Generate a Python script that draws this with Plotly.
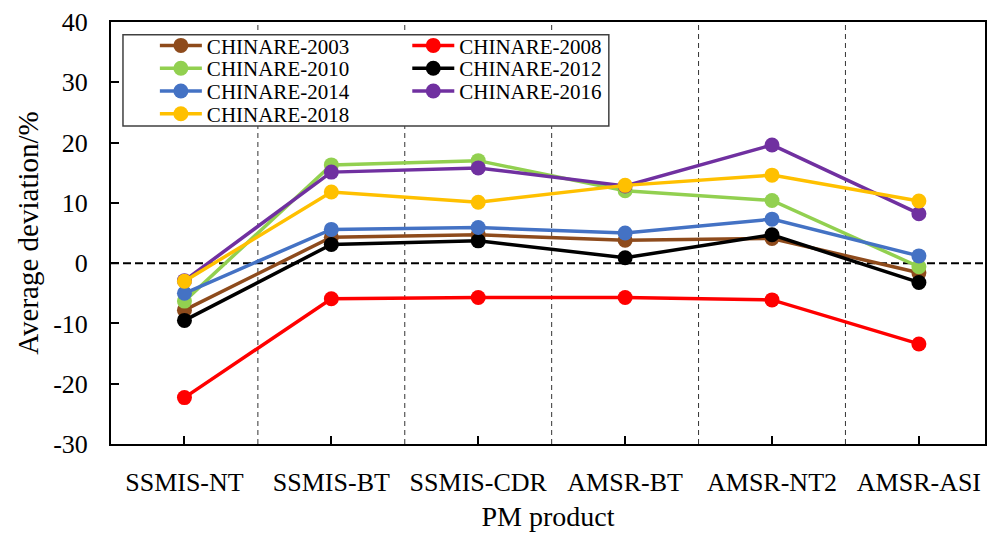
import plotly.graph_objects as go

categories = ["SSMIS-NT", "SSMIS-BT", "SSMIS-CDR", "AMSR-BT", "AMSR-NT2", "AMSR-ASI"]
series_names = ["CHINARE-2003", "CHINARE-2008", "CHINARE-2010", "CHINARE-2012",
                "CHINARE-2014", "CHINARE-2016", "CHINARE-2018"]
v2003 = [-7.8, 4.3, 4.7, 3.8, 4.1, -1.6]
v2008 = [-22.3, -5.9, -5.7, -5.7, -6.1, -13.4]
v2010 = [-6.3, 16.3, 17.0, 12.0, 10.4, -0.6]
v2012 = [-9.5, 3.1, 3.7, 0.9, 4.7, -3.2]
v2014 = [-5.0, 5.6, 5.9, 5.0, 7.3, 1.2]
v2016 = [-2.9, 15.1, 15.8, 12.8, 19.6, 8.2]
v2018 = [-3.0, 11.8, 10.1, 12.9, 14.6, 10.3]
y_ticks = [-30, -20, -10, 0, 10, 20, 30, 40]
y_tick_labels = ["-30", "-20", "-10", "0", "10", "20", "30", "40"]

values = [v2003, v2008, v2010, v2012, v2014, v2016, v2018]
colors = ["#8E4B1C", "#FF0000", "#92D050", "#000000", "#4472C4", "#7030A0", "#FFC000"]

FONT = "Liberation Serif, Times New Roman, serif"
xi = list(range(len(categories)))

# legend slot for each series: (column x in paper, row center in paper)
col_x = [0.0502, 0.339]
row_y = [(446 - 44) / 426, (446 - 67) / 426, (446 - 90) / 426, (446 - 113) / 426]
slots = [(0, 0), (1, 0), (0, 1), (1, 1), (0, 2), (1, 2), (0, 3)]

fig = go.Figure()
legend_layout = {}
for k, (name, vals, col) in enumerate(zip(series_names, values, colors)):
    lid = "legend" if k == 0 else f"legend{k + 1}"
    fig.add_trace(go.Scatter(
        x=xi, y=vals, name=name, mode="lines+markers",
        line=dict(color=col, width=3.5),
        marker=dict(color=col, size=15),
        legend=lid,
    ))
    c, r = slots[k]
    legend_layout[lid] = dict(
        x=col_x[c], y=row_y[r], xanchor="left", yanchor="middle",
        orientation="v", bgcolor="rgba(0,0,0,0)", borderwidth=0,
        font=dict(family=FONT, size=21, color="#000000"),
        itemwidth=42,
    )

shapes = []
for b in range(len(categories) - 1):
    shapes.append(dict(type="line", xref="x", yref="paper", x0=b + 0.5, x1=b + 0.5,
                       y0=0, y1=1, line=dict(color="#333333", width=1, dash="5px,4px"),
                       layer="below"))
shapes.append(dict(type="line", xref="paper", yref="y", x0=0, x1=1, y0=0, y1=0,
                   line=dict(color="#000000", width=2, dash="8px,4px"), layer="below"))
shapes.append(dict(type="rect", xref="paper", yref="paper", x0=0.0137, x1=0.5696,
                   y0=0.7535, y1=0.9695, line=dict(color="#404040", width=1.5),
                   fillcolor="white", layer="above"))

fig.update_layout(
    width=995, height=535,
    margin=dict(l=111, r=8, t=20, b=89),
    paper_bgcolor="white", plot_bgcolor="white",
    font=dict(family=FONT, size=26, color="#000000"),
    showlegend=True,
    shapes=shapes,
    xaxis=dict(
        range=[-0.5, 5.45], tickmode="array", tickvals=xi, ticktext=categories,
        ticks="inside", ticklen=8, tickwidth=1.5, tickcolor="#000000",
        showline=True, linecolor="#000000", linewidth=2, mirror=True,
        showgrid=False, zeroline=False,
        tickfont=dict(family=FONT, size=26), ticklabelstandoff=14,
        title=dict(text="PM product", font=dict(family=FONT, size=28), standoff=10),
    ),
    yaxis=dict(
        range=[-30, 40], tickmode="array", tickvals=y_ticks, ticktext=y_tick_labels,
        ticks="inside", ticklen=8, tickwidth=1.5, tickcolor="#000000",
        showline=True, linecolor="#000000", linewidth=2, mirror=True,
        showgrid=False, zeroline=False,
        tickfont=dict(family=FONT, size=26), ticklabelstandoff=16,
        title=dict(text="Average deviation/%", font=dict(family=FONT, size=29), standoff=6),
    ),
    **legend_layout,
)

fig.write_html("out.html")
